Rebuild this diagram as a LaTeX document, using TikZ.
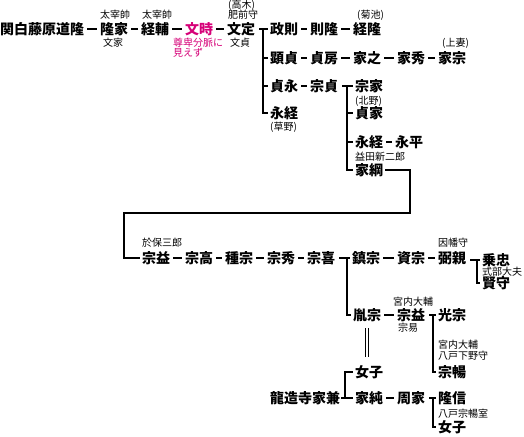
\documentclass[tikz,border=0pt]{standalone}
\usepackage{fontspec}
\setmainfont{Noto Sans CJK JP}
\definecolor{mag}{RGB}{214,0,120}
\tikzset{
  nm/.style={inner sep=0pt, anchor=west, font=\fontsize{14}{14}\selectfont\bfseries, text height=12.32pt, text depth=1.68pt},
  sm/.style={inner sep=0pt, anchor=west, font=\fontsize{10}{10}\selectfont, text height=8.8pt, text depth=1.2pt},
  ln/.style={line width=2pt},
  dsh/.style={line width=2.2pt, shorten <=3pt, shorten >=3pt},
  dbl/.style={double, double distance=2pt, line width=1.2pt, shorten <=6pt, shorten >=8pt},
}
\begin{document}
\begin{tikzpicture}[x=1pt,y=-1pt]
\fill[white] (0,0) rectangle (524,436);
\useasboundingbox (0,0) rectangle (524,436);
% row 1
\node[nm] (a1) at (0,29) {関白藤原道隆};
\node[nm] (a2) at (100,29) {隆家};
\node[sm] (a2t) at (100,15) {太宰帥};
\node[sm] (a2b) at (103,43) {文家};
\node[nm] (a3) at (141,29) {経輔};
\node[sm] (a3t) at (142,15) {太宰帥};
\node[nm,text=mag] (a4) at (185,29) {文時};
\node[sm,text=mag] (a4b) at (173,42.5) {尊卑分脈に};
\node[sm,text=mag] (a4c) at (173,53) {見えず};
\node[nm] (a5) at (227,29) {文定};
\node[sm] (a5p) at (228,5) {(高木)};
\node[sm] (a5t) at (228,15) {肥前守};
\node[sm] (a5b) at (230,43) {文貞};
\draw[dsh] (a1.east) -- (a2.west);
\draw[dsh] (a2.east) -- (a3.west);
\draw[dsh] (a3.east) -- (a4.west);
\draw[dsh] (a4.east) -- (a5.west);
% first bracket
\coordinate (bA) at (263,29);
\node[nm] (b1) at (270,29) {政則};
\node[nm] (b1a) at (310,29) {則隆};
\node[nm] (b1b) at (353,29) {経隆};
\node[sm] (b1bt) at (357,15) {(菊池)};
\node[nm] (b2) at (270,58) {顕貞};
\node[nm] (b2a) at (310,58) {貞房};
\node[nm] (b2b) at (353,58) {家之};
\node[nm] (b2c) at (397,58) {家秀};
\node[nm] (b2d) at (438,58) {家宗};
\node[sm] (b2dt) at (442,43) {(上妻)};
\node[nm] (b3) at (270,86) {貞永};
\node[nm] (b3a) at (310,86) {宗貞};
\node[nm] (b4) at (270,113) {永経};
\node[sm] (b4b) at (270,127) {(草野)};
\draw[ln] ([xshift=4pt]a5.east) -- ([xshift=-2pt]b1.west);
\draw[ln] (bA) |- ([xshift=-2pt]b4.west);
\draw[ln] (bA |- b2.west) -- ([xshift=-2pt]b2.west);
\draw[ln] (bA |- b3.west) -- ([xshift=-2pt]b3.west);
\draw[dsh] (b1.east) -- (b1a.west);
\draw[dsh] (b1a.east) -- (b1b.west);
\draw[dsh] (b2.east) -- (b2a.west);
\draw[dsh] (b2a.east) -- (b2b.west);
\draw[dsh] (b2b.east) -- (b2c.west);
\draw[dsh] (b2c.east) -- (b2d.west);
\draw[dsh] (b3.east) -- (b3a.west);
% second bracket
\coordinate (bB) at (347,86);
\node[nm] (c1) at (355,86) {宗家};
\node[sm] (c2t) at (355,101) {(北野)};
\node[nm] (c2) at (355,113) {貞家};
\node[nm] (c3) at (355,142) {永経};
\node[nm] (c3a) at (395,142) {永平};
\node[sm] (c3b) at (355,157) {益田新二郎};
\node[nm] (c4) at (355,170) {家綱};
\draw[ln] ([xshift=4pt]b3a.east) -- ([xshift=-2pt]c1.west);
\draw[ln] (bB) |- ([xshift=-2pt]c4.west);
\draw[ln] (bB |- c2.west) -- ([xshift=-2pt]c2.west);
\draw[ln] (bB |- c3.west) -- ([xshift=-2pt]c3.west);
\draw[dsh] (c3.east) -- (c3a.west);
% long connector
\coordinate (r1) at (410,213);
\coordinate (r2) at (124,213);
\node[sm] (d1t) at (142,243) {於保三郎};
\node[nm] (d1) at (142,258) {宗益};
\draw[ln] ([xshift=2pt]c4.east) -| (r1) -- (r2) |- ([xshift=-2pt]d1.west);
% row d
\node[nm] (d2) at (185,258) {宗高};
\node[nm] (d3) at (225,258) {種宗};
\node[nm] (d4) at (267,258) {宗秀};
\node[nm] (d5) at (307,258) {宗喜};
\node[nm] (d6) at (352,258) {鎮宗};
\node[nm] (d7) at (397,258) {資宗};
\node[nm] (d8) at (438,258) {弼親};
\node[sm] (d8t) at (438,243) {因幡守};
\draw[dsh] (d1.east) -- (d2.west);
\draw[dsh] (d2.east) -- (d3.west);
\draw[dsh] (d3.east) -- (d4.west);
\draw[dsh] (d4.east) -- (d5.west);
\draw[dsh] (d6.east) -- (d7.west);
\draw[dsh] (d7.east) -- (d8.west);
% bracket D
\coordinate (bD) at (477,260);
\node[nm] (e1) at (482,260) {乗忠};
\node[sm] (e1b) at (482,272) {式部大夫};
\node[nm] (e2) at (482,283) {賢守};
\draw[ln] ([xshift=4pt]d8.east |- bD) -- ([xshift=-2pt]e1.west);
\draw[ln] (bD) |- ([xshift=-2pt]e2.west);
% bracket C
\coordinate (bC) at (347,258);
\node[nm] (g1) at (353,315) {胤宗};
\draw[ln] ([xshift=4pt]d5.east) -- ([xshift=-2pt]d6.west);
\draw[ln] (bC) |- ([xshift=-2pt]g1.west);
% row g
\node[sm] (g2t) at (393,302) {宮内大輔};
\node[nm] (g2) at (397,315) {宗益};
\node[sm] (g2b) at (398,328) {宗易};
\draw[dsh] (g1.east) -- (g2.west);
\coordinate (bE) at (433,315);
\node[nm] (h1) at (438,315) {光宗};
\node[sm] (h2t) at (438,345) {宮内大輔};
\node[sm] (h2u) at (438,356) {八戸下野守};
\node[nm] (h2) at (438,372) {宗暢};
\draw[ln] ([xshift=4pt]g2.east) -- ([xshift=-2pt]h1.west);
\draw[ln] (bE) |- ([xshift=-2pt]h2.west);
% marriage and 龍造寺
\node[nm] (f1) at (355,372) {女子};
\node[nm] (f0) at (270,398) {龍造寺家兼};
\node[nm] (f2) at (355,398) {家純};
\node[nm] (f3) at (397,398) {周家};
\draw[dbl] (g1.south) -- (g1.south |- f1.north);
\coordinate (bG) at (345,398);
\draw[ln] ([xshift=1pt]f0.east) -- ([xshift=-2pt]f2.west);
\draw[ln] (bG) |- ([xshift=-2pt]f1.west);
\draw[dsh] (f2.east) -- (f3.west);
% bracket F
\coordinate (bF) at (433,398);
\node[nm] (k1) at (438,398) {隆信};
\node[sm] (k2t) at (438,414) {八戸宗暢室};
\node[nm] (k2) at (438,427) {女子};
\draw[ln] ([xshift=4pt]f3.east) -- ([xshift=-2pt]k1.west);
\draw[ln] (bF) |- ([xshift=-2pt]k2.west);
\end{tikzpicture}
\end{document}
